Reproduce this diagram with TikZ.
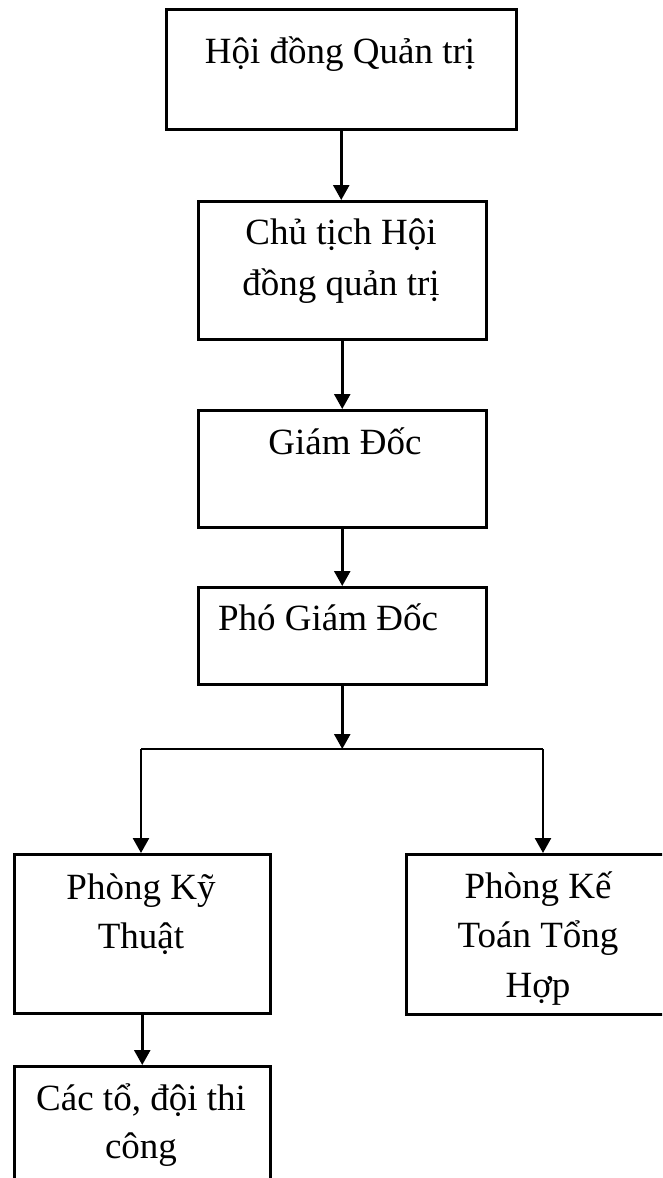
\documentclass[tikz,border=0pt]{standalone}
\usepackage{fontspec}
\setmainfont{Liberation Serif}
\usetikzlibrary{arrows.meta}
\begin{document}
\begin{tikzpicture}[x=1pt,y=-1pt,
  box/.style={draw=black,line width=2.5pt,rectangle,inner sep=0pt,anchor=north west},
  txt/.style={anchor=base,inner sep=0pt,font=\fontsize{37}{51}\selectfont},
  arr/.style={line width=2.5pt,-{Triangle[width=16pt,length=15pt]}},
  ln/.style={line width=2.5pt}]
\useasboundingbox (0,0) rectangle (662,1178);
\clip (0,0) rectangle (662,1178);
\fill[white] (0,0) rectangle (662,1178);
% boxes
\node[box,minimum width=350,minimum height=120] (b1) at (165,8) {};
\node[box,minimum width=288,minimum height=138] (b2) at (197,200) {};
\node[box,minimum width=288,minimum height=117] (b3) at (197,409) {};
\node[box,minimum width=288,minimum height=97] (b4) at (197,586) {};
\node[box,minimum width=256,minimum height=159] (b5) at (13,853) {};
\node[box,minimum width=280,minimum height=160] (b6) at (405,853) {};
\node[box,minimum width=256,minimum height=150] (b7) at (13,1065) {};
% texts
\node[txt] (t1) at (340,63) {Hội đồng Quản trị};
\node[txt] (t2a) at (341,244) {Chủ tịch Hội};
\node[txt] (t2b) at (341,295) {đồng quản trị};
\node[txt] (t3) at (345,454) {Giám Đốc};
\node[txt] (t4) at (328,630) {Phó Giám Đốc};
\node[txt] (t5a) at (141,899) {Phòng Kỹ};
\node[txt] (t5b) at (141,948) {Thuật};
\node[txt] (t6a) at (538,898) {Phòng Kế};
\node[txt] (t6b) at (538,947) {Toán Tổng};
\node[txt] (t6c) at (538,997) {Hợp};
\node[txt] (t7a) at (141,1110) {Các tổ, đội thi};
\node[txt] (t7b) at (141,1158) {công};
% connectors
\coordinate (j) at (341,749);
\coordinate (jl) at (141,749);
\coordinate (jr) at (543,749);
\draw[arr] (b1.south) -- (b1.south |- b2.north);
\draw[arr] (b2.south) -- (b2.south |- b3.north);
\draw[arr] (b3.south) -- (b3.south |- b4.north);
\draw[arr] (b4.south) -- (b4.south |- j);
\draw[ln] (jl) -- (jr);
\draw[arr] (jl) -- (jl |- b5.north);
\draw[arr] (jr) -- (jr |- b6.north);
\draw[arr] (b5.south) -- (b5.south |- b7.north);
\end{tikzpicture}
\end{document}
